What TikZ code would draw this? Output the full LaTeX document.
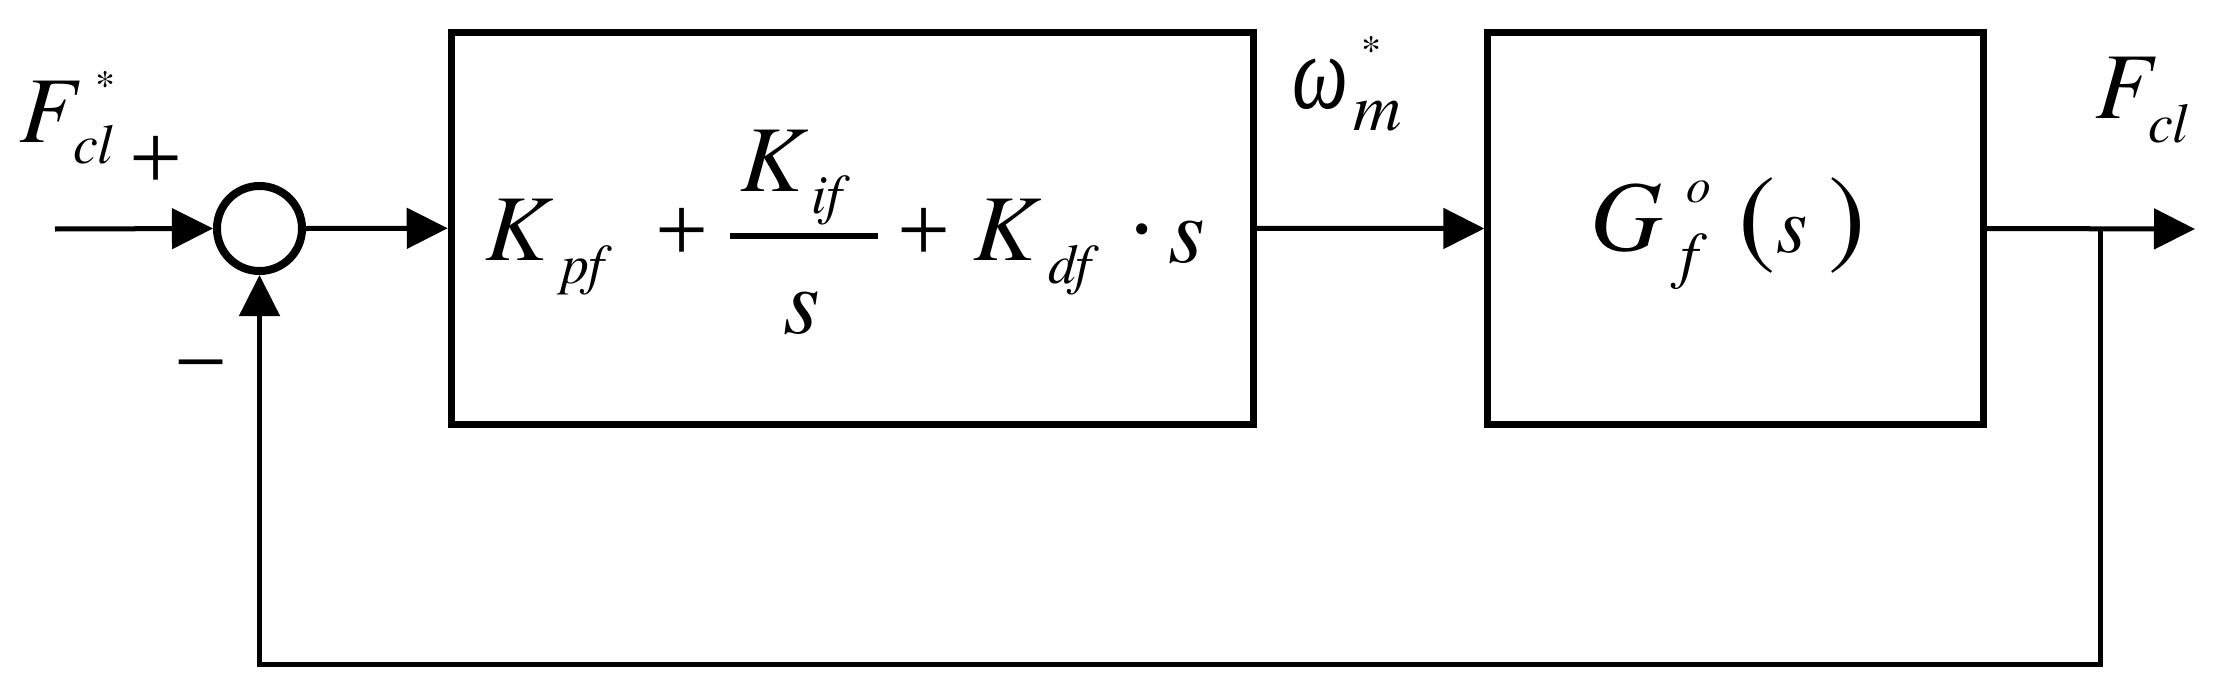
\documentclass[tikz,border=0pt]{standalone}
\usepackage{fontspec}
\setmainfont{texgyretermes}[Extension=.otf,UprightFont=*-regular,ItalicFont=*-italic,BoldFont=*-bold,BoldItalicFont=*-bolditalic]
\newfontfamily\libfont{Liberation Serif}
\usepackage{graphicx}
\usetikzlibrary{arrows.meta}
\newcommand\sz[1]{\fontsize{#1}{#1}\selectfont}
\begin{document}
\begin{tikzpicture}[x=0.01cm,y=-0.01cm,
  conn/.style={line width=0.05cm},
  arr/.style={conn,-{Triangle[length=0.41cm,width=0.40cm]}},
  blk/.style={draw,line width=0.07cm,rectangle,inner sep=0,outer sep=0.035cm},
  lbl/.style={inner sep=0,outer sep=0,anchor=base west},
  mid/.style={inner sep=0,outer sep=0,anchor=base},
  big/.style={font=\sz{26.75pt}\itshape},
  sub/.style={font=\sz{15.9pt}\itshape},
  rm/.style={font=\sz{26.75pt}\libfont},
  star/.style={font=\sz{11.4pt}}]
\useasboundingbox (0,0) rectangle (2218,694);
% blocks
\node[blk,circle,line width=0.08cm,minimum size=0.85cm,outer sep=0.04cm] (sum) at (259.5,228.5) {};
\node[blk,minimum width=8.015cm,minimum height=3.915cm] (pid) at (852.25,228.25) {};
\node[blk,minimum width=4.95cm,minimum height=3.91cm] (g) at (1735.5,228.5) {};
% connectors
\coordinate (in) at (55,229);
\coordinate (out) at (2195,229);
\coordinate (br) at (2100,229);
\coordinate (fb) at (2100,664);
\draw[arr] (in) -- (sum.west);
\draw[arr] (sum.east) -- (pid.west);
\draw[arr] (pid.east) -- (g.west);
\draw[arr] (g.east) -- (out);
\draw[arr] (br) -- (fb) -| (sum.south);
% input labels
\node[lbl,big] (Fin) at (20,142) {F};
\node[lbl,sub] (Fincl) at (73,163) {cl};
\node[mid,star] (Finst) at (106,98) {*};
\node[mid,rm] (plus) at (156,189) {+};
\node[mid,rm] (minus) at (201,393) {−};
% PID formula
\node[lbl,big] (K1) at (485,260) {K};
\node[lbl,sub] (K1s) at (561,283) {pf};
\node[mid,rm] (p1) at (682,261) {+};
\node[lbl,big] (K2) at (740,191) {K};
\node[lbl,sub] (K2s) at (811,213) {if};
\draw[line width=0.06cm] (730,236) -- (878,236);
\node[lbl,big] (den) at (783,333) {s};
\node[mid,rm] (p2) at (924,261) {+};
\node[lbl,big] (K3) at (973,260) {K};
\node[lbl,sub] (K3s) at (1048,283) {df};
\node[mid,rm] (dot) at (1142,260) {·};
\node[lbl,big] (s3) at (1168,262) {s};
% omega label
\node[lbl,font=\sz{30pt}\libfont\itshape] (om) at (1292,108) {\scalebox{0.75}[1]{ω}};
\node[mid,star] (omst) at (1372,64) {*};
\node[lbl,font=\sz{19pt}\itshape] (omm) at (1353,130) {m};
% plant
\node[lbl,font=\sz{28.45pt}\itshape] (G) at (1590,250) {G};
\node[lbl,font=\sz{14pt}\itshape] (Go) at (1686,202) {o};
\node[lbl,font=\sz{18pt}\itshape] (Gf) at (1680,276) {f};
\node[lbl,font=\sz{31.9pt}] (lp) at (1738,253) {(};
\node[lbl,font=\sz{22.8pt}\itshape] (Gs) at (1776,252) {s};
\node[lbl,font=\sz{31.9pt}] (rp) at (1828,253) {)};
% output label
\node[lbl,big] (Fout) at (2095,118) {F};
\node[lbl,sub] (Foutcl) at (2148,142) {cl};
\end{tikzpicture}
\end{document}
